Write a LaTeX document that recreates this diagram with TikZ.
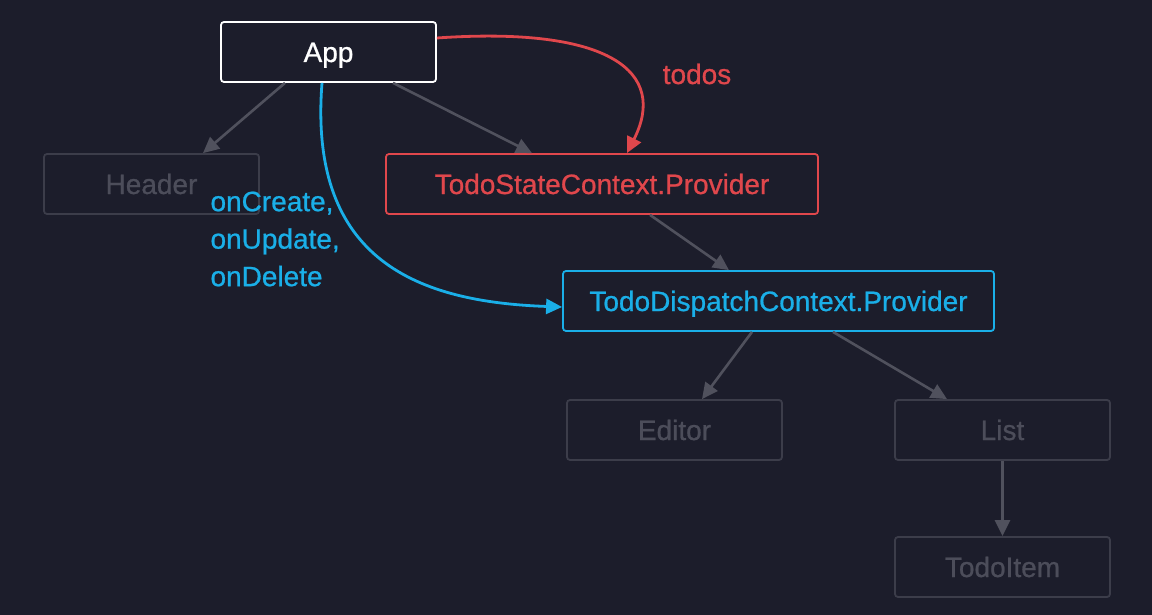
\documentclass[tikz,border=0pt]{standalone}
\usepackage{fontspec}
\setmainfont{Liberation Sans}[FakeBold=0.8]
\usetikzlibrary{arrows.meta}

\definecolor{bgnavy}{HTML}{1C1D2B}
\definecolor{dimgray}{HTML}{3C3D4A}
\definecolor{dimtext}{HTML}{4C4D5A}
\definecolor{linkgray}{HTML}{50515D}
\definecolor{statered}{HTML}{E0474C}
\definecolor{dispblue}{HTML}{1AAFE8}

\tikzset{
  comp/.style={draw, rounded corners=3pt, line width=1.8pt, inner sep=0pt,
    minimum width=215pt, minimum height=60pt, text height=20pt, text depth=0pt,
    font=\fontsize{28}{33}\selectfont},
  dimcomp/.style={comp, draw=dimgray, text=dimtext},
  link/.style={draw=linkgray, line width=2.6pt, -{Triangle[length=16pt,width=15pt]}},
}

\begin{document}
\begin{tikzpicture}[x=1pt, y=-1pt]
  \fill[bgnavy] (0, 0) rectangle (1152, 615);
  \useasboundingbox (0, 0) rectangle (1152, 615);

  \node[comp, draw=white, text=white] (app) at (328.5, 52) {App};
  \node[dimcomp] (header) at (151.5, 184) {Header};
  \node[comp, draw=statered, text=statered, minimum width=432pt] (state)
    at (602, 184) {TodoStateContext.Provider};
  \node[comp, draw=dispblue, text=dispblue, minimum width=431pt] (dispatch)
    at (778.5, 301) {TodoDispatchContext.Provider};
  \node[dimcomp] (editor) at (674.5, 430) {Editor};
  \node[dimcomp] (list) at (1002.5, 430) {List};
  \node[dimcomp] (item) at (1002.5, 567) {TodoItem};

  \draw[link] (app.south -| 285, 0) -- (header.north -| 203, 0);
  \draw[link] (app.south -| 393, 0) -- (state.north -| 532, 0);
  \draw[link] (state.south -| 650, 0) -- (dispatch.north -| 729, 0);
  \draw[link] (dispatch.south -| 752, 0) -- (editor.north -| 702, 0);
  \draw[link] (dispatch.south -| 833, 0) -- (list.north -| 947, 0);
  \draw[link] (list.south) -- (item.north);

  % props passed through the two contexts
  \draw[statered, line width=2.8pt, -{Triangle[length=16pt,width=15pt]}]
    (app.east |- 0, 38) .. controls (610, 26) and (668, 72) .. (state.north -| 627, 0);
  \node[text=statered, font=\fontsize{28}{33}\selectfont] (todos) at (697, 74) {todos};

  \draw[dispblue, line width=2.8pt, -{Triangle[length=16pt,width=15pt]}]
    (app.south -| 322, 0) .. controls (308, 262) and (420, 302) .. (dispatch.west |- 0, 307);
  \node[text=dispblue, anchor=west, align=left, font=\fontsize{28}{37.5}\selectfont]
    (handlers) at (207, 239) {onCreate,\\onUpdate,\\onDelete};
\end{tikzpicture}
\end{document}
